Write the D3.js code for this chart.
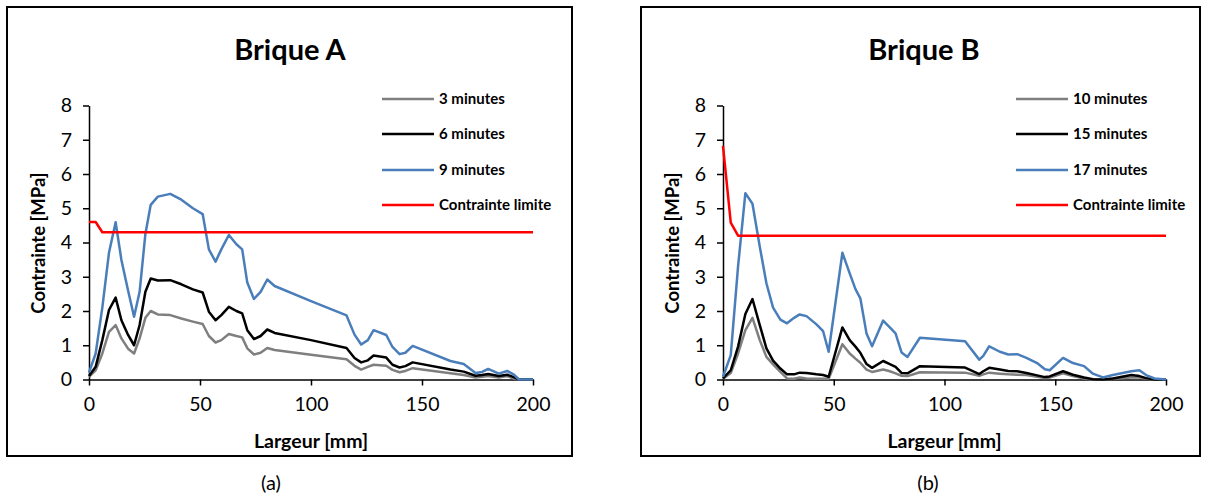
<!DOCTYPE html>
<html>
<head>
<meta charset="utf-8">
<script src="https://cdn.jsdelivr.net/npm/d3@7"></script>
<style>
  html, body { margin: 0; padding: 0; background: #fff; }
  svg { display: block; font-family: Lato, "Open Sans", sans-serif; }
</style>
</head>
<body>
<svg id="chart" width="1206" height="499"></svg>
<script>
// ---- Data: Brique A ----
const xA = [0, 3, 6, 9, 12, 14.6, 17.6, 20.3, 22.8, 25.4, 27.8, 31, 36.6, 41.6, 46.8, 51.2, 54, 57, 59.6, 63,
  66.4, 69, 71.3, 74.3, 77.3, 80.3, 83.6, 100, 116, 119.6, 122.6, 125.6, 128.2, 133.9, 136.7, 139.9, 142.5, 145.8,
  162.8, 168.8, 174.1, 177.1, 179.8, 184.6, 188.4, 191.4, 193.7, 200];
const a3min = [0.08, 0.27, 0.76, 1.39, 1.59, 1.2, 0.9, 0.76, 1.2, 1.8, 2.0, 1.9, 1.88, 1.78, 1.69, 1.62, 1.27, 1.08, 1.15, 1.33,
  1.27, 1.23, 0.91, 0.73, 0.78, 0.92, 0.86, 0.72, 0.59, 0.4, 0.29, 0.37, 0.43, 0.4, 0.28, 0.21, 0.25, 0.33,
  0.18, 0.13, 0.06, 0.08, 0.1, 0.06, 0.1, 0.03, 0, 0];
const a6min = [0.1, 0.37, 1.15, 2.03, 2.39, 1.73, 1.3, 1.0, 1.59, 2.56, 2.95, 2.89, 2.9, 2.78, 2.63, 2.54, 1.98, 1.73, 1.88, 2.12,
  2.0, 1.93, 1.44, 1.18, 1.27, 1.46, 1.36, 1.15, 0.92, 0.63, 0.5, 0.56, 0.7, 0.64, 0.43, 0.35, 0.39, 0.5,
  0.29, 0.23, 0.11, 0.13, 0.16, 0.1, 0.14, 0.07, 0, 0];
const a9min = [0.2, 0.76, 2.1, 3.7, 4.59, 3.49, 2.6, 1.83, 2.56, 4.25, 5.1, 5.34, 5.42, 5.25, 5.0, 4.83, 3.8, 3.44, 3.8, 4.22,
  3.95, 3.8, 2.83, 2.35, 2.56, 2.92, 2.73, 2.29, 1.87, 1.31, 1.02, 1.15, 1.44, 1.3, 0.95, 0.74, 0.78, 0.98,
  0.54, 0.45, 0.19, 0.22, 0.31, 0.17, 0.25, 0.14, 0, 0];
const xLimA = [0, 3, 6, 200];
const limA = [4.6, 4.6, 4.3, 4.3];

// ---- Data: Brique B ----
const xB = [0, 3.5, 6.8, 10.1, 13.3, 16.6, 19.6, 22.6, 25.9, 28.9, 32.1, 34.6, 37.7, 42.2, 45.2, 47.7, 53.9, 57.2, 59.8, 62,
  64.8, 67.3, 72.3, 75.3, 77.9, 80.6, 83.3, 88.9, 109.3, 115.7, 117.5, 120.2, 125, 128.8, 132.8, 137, 141.8, 145.3, 147.5, 153.5,
  158, 163, 167, 171.5, 176, 184.3, 188, 191, 194.8, 200];
const b10min = [0.02, 0.19, 0.76, 1.44, 1.8, 1.15, 0.66, 0.44, 0.22, 0.03, 0.02, 0.06, 0.03, 0.02, 0.02, 0.02, 1.03, 0.76, 0.61, 0.49,
  0.29, 0.22, 0.29, 0.24, 0.18, 0.11, 0.1, 0.21, 0.2, 0.11, 0.15, 0.2, 0.17, 0.15, 0.14, 0.13, 0.08, 0.04, 0.06, 0.18,
  0.1, 0.03, 0, 0, 0.02, 0.06, 0.06, 0.03, 0, 0];
const b15min = [0.03, 0.27, 0.96, 1.91, 2.35, 1.59, 0.91, 0.55, 0.32, 0.15, 0.15, 0.2, 0.19, 0.15, 0.13, 0.08, 1.52, 1.15, 0.96, 0.78,
  0.45, 0.34, 0.54, 0.45, 0.37, 0.19, 0.18, 0.39, 0.35, 0.16, 0.24, 0.34, 0.29, 0.25, 0.24, 0.19, 0.12, 0.07, 0.09, 0.24,
  0.14, 0.06, 0.01, 0, 0.03, 0.13, 0.1, 0.04, 0, 0];
const b17min = [0.08, 0.71, 3.3, 5.44, 5.13, 3.88, 2.81, 2.1, 1.75, 1.64, 1.8, 1.9, 1.85, 1.61, 1.41, 0.81, 3.7, 3.1, 2.64, 2.37,
  1.34, 0.97, 1.72, 1.52, 1.35, 0.79, 0.66, 1.22, 1.12, 0.58, 0.69, 0.97, 0.81, 0.73, 0.74, 0.63, 0.48, 0.3, 0.27, 0.63,
  0.48, 0.39, 0.17, 0.06, 0.13, 0.24, 0.27, 0.13, 0.03, 0];
const xLimB = [0, 3.5, 6.8, 200];
const limB = [6.82, 4.58, 4.2, 4.2];

const xTicks = [0, 50, 100, 150, 200];
const yTicks = [0, 1, 2, 3, 4, 5, 6, 7, 8];
const colors = { s1: "#7f7f7f", s2: "#000000", s3: "#4a7ebb", lim: "#ff0000" };

const panels = [
  { title: "Brique A", titleX: 290, caption: "(a)", captionX: 271, frame: [7, 7, 565, 449], xr: [89, 533], legX: 382,
    series: [
      { name: "3 minutes", xs: xA, ys: a3min, color: colors.s1 },
      { name: "6 minutes", xs: xA, ys: a6min, color: colors.s2 },
      { name: "9 minutes", xs: xA, ys: a9min, color: colors.s3 },
      { name: "Contrainte limite", xs: xLimA, ys: limA, color: colors.lim }
    ] },
  { title: "Brique B", titleX: 924, caption: "(b)", captionX: 928, frame: [641, 7, 559, 449], xr: [723, 1166], legX: 1016,
    series: [
      { name: "10 minutes", xs: xB, ys: b10min, color: colors.s1 },
      { name: "15 minutes", xs: xB, ys: b15min, color: colors.s2 },
      { name: "17 minutes", xs: xB, ys: b17min, color: colors.s3 },
      { name: "Contrainte limite", xs: xLimB, ys: limB, color: colors.lim }
    ] }
];

const svg = d3.select("#chart");

panels.forEach(p => {
  const g = svg.append("g");
  g.append("rect").attr("x", p.frame[0]).attr("y", p.frame[1])
    .attr("width", p.frame[2]).attr("height", p.frame[3])
    .attr("fill", "none").attr("stroke", "#000").attr("stroke-width", 2);

  const x = d3.scaleLinear().domain([0, 200]).range(p.xr);
  const y = d3.scaleLinear().domain([0, 8]).range([379.5, 105.5]);

  // axes
  const xAxis = g.append("g").attr("transform", `translate(0,${y(0)})`)
    .call(d3.axisBottom(x).tickValues(xTicks).tickSize(6).tickSizeOuter(0).tickPadding(12));
  const yAxis = g.append("g").attr("transform", `translate(${x(0)},0)`)
    .call(d3.axisLeft(y).tickValues(yTicks).tickSize(6).tickSizeOuter(0).tickPadding(11));
  [xAxis, yAxis].forEach(ax => {
    ax.select(".domain").attr("stroke", "#000").attr("stroke-width", 1.5);
    ax.selectAll(".tick line").attr("stroke", "#000").attr("stroke-width", 1.5);
    ax.selectAll(".tick text").attr("fill", "#000").style("font-size", "19.5px")
      .style("font-family", "Lato, sans-serif");
  });

  // series lines
  const line = d3.line().x(d => x(d[0])).y(d => y(d[1]));
  p.series.forEach(s => {
    const pts = s.xs.map((xv, i) => [xv, s.ys[i]]);
    g.append("path").datum(pts).attr("d", line)
      .attr("fill", "none").attr("stroke", s.color).attr("stroke-width", 2.5)
      .attr("stroke-linejoin", "round");
  });

  // title
  g.append("text").attr("x", p.titleX).attr("y", 60)
    .attr("text-anchor", "middle").style("font-size", "29px").style("font-weight", "bold")
    .text(p.title);

  // axis titles
  g.append("text").attr("x", x(100)).attr("y", 448).attr("text-anchor", "middle")
    .style("font-size", "19.5px").style("font-weight", "bold").text("Largeur [mm]");
  g.append("text").attr("transform", `translate(${p.frame[0] + 38},${243}) rotate(-90)`)
    .attr("text-anchor", "middle").style("font-size", "18.5px").style("font-weight", "bold")
    .text("Contrainte [MPa]");

  // legend
  const rows = [99, 134, 170, 205];
  p.series.forEach((s, i) => {
    g.append("line").attr("x1", p.legX).attr("x2", p.legX + 52)
      .attr("y1", rows[i]).attr("y2", rows[i])
      .attr("stroke", s.color).attr("stroke-width", 2.5);
    g.append("text").attr("x", p.legX + 57).attr("y", rows[i]).attr("dy", "0.35em")
      .style("font-size", "15px").style("font-weight", "bold").text(s.name);
  });

  // caption
  g.append("text").attr("x", p.captionX).attr("y", 490)
    .attr("text-anchor", "middle").style("font-size", "20px").text(p.caption);
});
</script>
</body>
</html>
